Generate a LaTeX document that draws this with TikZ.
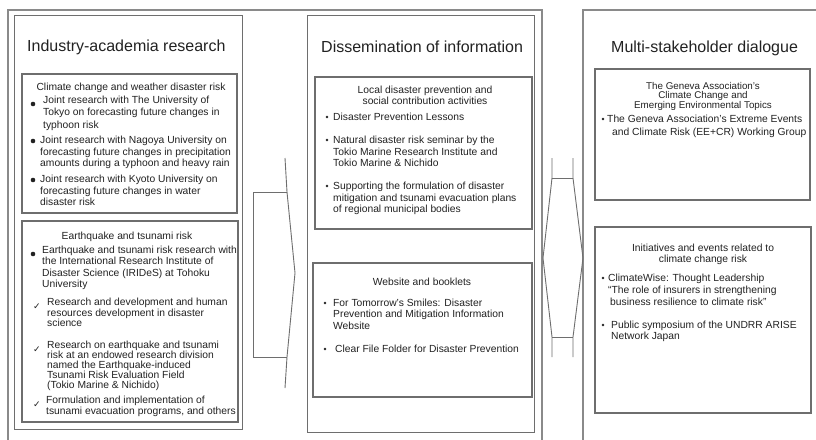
\documentclass[tikz,border=0pt]{standalone}
\usepackage{fontspec}
\setmainfont{Liberation Sans}
\newfontfamily\symfont{DejaVu Sans}
\definecolor{txt}{HTML}{222222}
\definecolor{ln}{HTML}{6e6e6e}
\definecolor{frm}{HTML}{8a8a8a}
\begin{document}
\begin{tikzpicture}[x=1pt,y=-1pt,
 frame/.style={draw=frm, line width=1.6pt},
 colbox/.style={draw=ln, line width=1pt},
 subbox/.style={draw=ln, line width=1.1pt},
 blockarrow/.style={draw=ln, line width=0.9pt, line join=miter},
 title/.style={anchor=base west, inner sep=0, text=txt, font=\fontsize{16}{19}\selectfont},
 head/.style={anchor=base, inner sep=0, align=center, text=txt, font=\fontsize{10.3}{#1}\selectfont},
 head/.default=11,
 item/.style={anchor=base west, inner sep=0, align=left, text=txt, font=\fontsize{10.3}{#1}\selectfont},
 item/.default=11.5,
 bigdot/.style={circle, fill=txt, inner sep=0, minimum size=4.6pt},
 smalldot/.style={circle, fill=txt, inner sep=0, minimum size=2.6pt},
 tick/.style={inner sep=0, text=txt, font=\symfont\fontsize{9}{10}\selectfont},
]
\useasboundingbox (0,0) rectangle (816,439);
\clip (0,0) rectangle (816,439);
\fill[white] (0,0) rectangle (816,439);

% frames and column boxes
\draw[frame] (8,10) rectangle (542,470);
\draw[frame] (583,10) rectangle (840,470);
\draw[colbox] (14,15) rectangle (242,429);
\draw[colbox] (307,15) rectangle (534,432);

% ---------------- left column ----------------
% (multi-line nodes are placed by the baseline of their LAST line)
\node[title] (t1) at (27,51.5) {Industry-academia research};
\draw[subbox] (22,74) rectangle (237,213);
\node[head] (h1) at (131,90.5) {Climate change and weather disaster risk};
\node[bigdot] (d1) at (33,104) {};
\node[item=12.3] (b1) at (43,128.1) {Joint research with The University of\\Tokyo on forecasting future changes in\\typhoon risk};
\node[bigdot] (d2) at (33,141) {};
\node[item] (b2) at (40,166.5) {Joint research with Nagoya University on\\forecasting future changes in precipitation\\amounts during a typhoon and heavy rain};
\node[bigdot] (d3) at (33,180) {};
\node[item] (b3) at (40,205.5) {Joint research with Kyoto University on\\forecasting future changes in water\\disaster risk};

\draw[subbox] (22,221) rectangle (238,422);
\node[head] (h2) at (127,239.5) {Earthquake and tsunami risk};
\node[bigdot] (d4) at (33,254) {};
\node[item=11.3] (b4) at (42,287.4) {Earthquake and tsunami risk research with\\the International Research Institute of\\Disaster Science (IRIDeS) at Tohoku\\University};
\node[tick] (k1) at (37,307) {✓};
\node[item=10.8] (c1) at (47,326.8) {Research and development and human\\resources development in disaster\\science};
\node[tick] (k2) at (37,350) {✓};
\node[item=10.1] (c2) at (47,388.9) {Research on earthquake and tsunami\\risk at an endowed research division\\named the Earthquake-induced\\Tsunami Risk Evaluation Field\\(Tokio Marine \& Nichido)};
\node[tick] (k3) at (37,405) {✓};
\node[item=11] (c3) at (46,414.5) {Formulation and implementation of\\tsunami evacuation programs, and others};

% arrow left -> middle
\draw[blockarrow] (285,158) -- (287,192) -- (295,273) -- (287,357) -- (285,388);
\draw[blockarrow] (287,192) -- (253,192) -- (253,357) -- (287,357);

% ---------------- middle column ----------------
\node[title] (t2) at (321,52) {Dissemination of information};
\draw[subbox] (315,77) rectangle (532,229);
\node[head] (h3) at (425,104.5) {Local disaster prevention and\\social contribution activities};
\node[smalldot] (e1) at (327,117) {};
\node[item] (m1) at (333,120.5) {Disaster Prevention Lessons};
\node[smalldot] (e2) at (327,140) {};
\node[item] (m2) at (333,166.5) {Natural disaster risk seminar by the\\Tokio Marine Research Institute and\\Tokio Marine \& Nichido};
\node[smalldot] (e3) at (327,186) {};
\node[item=11.7] (m3) at (333,212.9) {Supporting the formulation of disaster\\mitigation and tsunami evacuation plans\\of regional municipal bodies};

\draw[subbox] (313,263) rectangle (532,397);
\node[head] (h4) at (422,285.5) {Website and booklets};
\node[smalldot] (e4) at (325,303) {};
\node[item=11.4] (m4) at (333,329.3) {For Tomorrow's Smiles: Disaster\\Prevention and Mitigation Information\\Website};
\node[smalldot] (e5) at (325,349) {};
\node[item] (m5) at (335,352.5) {Clear File Folder for Disaster Prevention};

% double arrow middle <-> right
\draw[blockarrow] (552,158) -- (552,178) -- (543,258) -- (552,337) -- (552,357);
\draw[blockarrow] (573,158) -- (573,178) -- (583,258) -- (573,337) -- (573,357);
\draw[blockarrow] (552,178) -- (573,178);
\draw[blockarrow] (552,337) -- (573,337);

% ---------------- right column ----------------
\node[title] (t3) at (611,52) {Multi-stakeholder dialogue};
\draw[subbox] (595,69) rectangle (810,200);
\node[head=9.3, font=\fontsize{9.8}{9.3}\selectfont] (h5) at (703,108.1) {The Geneva Association's\\Climate Change and\\Emerging Environmental Topics};
\node[smalldot] (f1) at (603,119) {};
\node[item=13] (r1) at (607,135.5) {The Geneva Association's Extreme Events\\\hspace*{5pt}and Climate Risk (EE+CR) Working Group};

\draw[subbox] (595,227) rectangle (811,413);
\node[head] (h6) at (703,262.5) {Initiatives and events related to\\climate change risk};
\node[smalldot] (f2) at (603,278) {};
\node[item=12] (r2) at (608,305.5) {ClimateWise: Thought Leadership\\“The role of insurers in strengthening\\\hspace*{2pt}business resilience to climate risk”};
\node[smalldot] (f3) at (603,325) {};
\node[item=11] (r3) at (611,339.5) {Public symposium of the UNDRR ARISE\\Network Japan};
\end{tikzpicture}
\end{document}
